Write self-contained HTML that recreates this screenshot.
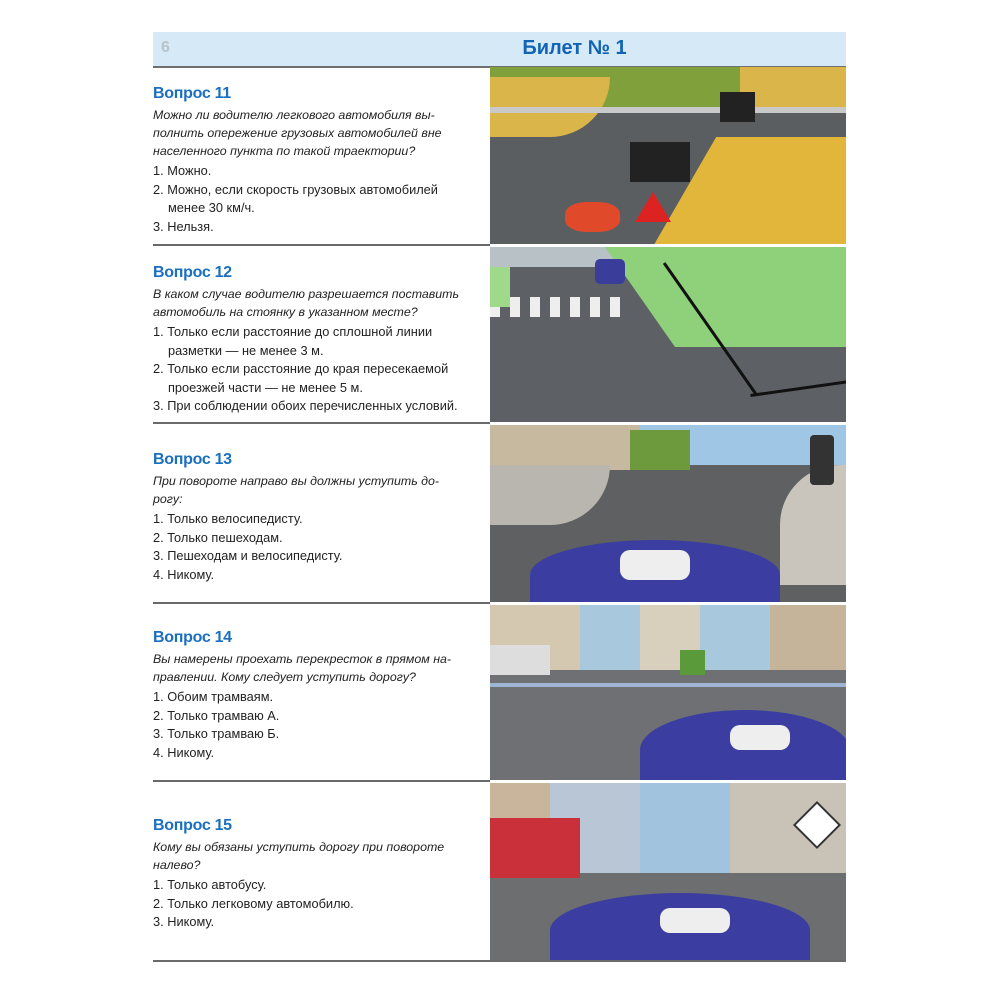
<!DOCTYPE html>
<html><head><meta charset="utf-8"><style>
body{margin:0;width:1000px;height:1000px;background:#fff;position:relative;font-family:"Liberation Sans",sans-serif;overflow:hidden}
.hd{position:absolute;left:153px;top:32px;width:693px;height:34px;background:#d6e9f7;border-bottom:2px solid #6f6f6f}
.hd .n{position:absolute;left:8px;top:7px;font-weight:bold;color:#b8c4cc;font-size:16px}
.hd .t{position:absolute;left:0;width:100%;top:5px;text-align:center;font-weight:bold;color:#1164b4;font-size:20px;padding-left:150px;box-sizing:border-box}
.sep{position:absolute;left:153px;width:337px;height:2px;background:#6a6a6a}
.q{position:absolute;left:153px;width:335px;font-size:12.4px;color:#222}
.q h2{margin:0 0 3px;font-size:16px;color:#1a6fbf;font-weight:bold;letter-spacing:-0.3px}
.q i{display:block;line-height:18px;margin-bottom:2px}
.q div{line-height:18.5px;padding-left:15px;text-indent:-15px;font-size:12.8px}
.img{position:absolute;left:490px;width:356px;overflow:hidden}
.r{position:absolute}
</style></head><body>
<div class="hd"><span class="n">6</span><span class="t">Билет № 1</span></div>

<div class="q" style="top:85px"><h2>Вопрос 11</h2><i>Можно ли водителю легкового автомобиля вы-<br>полнить опережение грузовых автомобилей вне<br>населенного пункта по такой траектории?</i>
<div>1. Можно.</div><div>2. Можно, если скорость грузовых автомобилей<br>менее 30 км/ч.</div><div>3. Нельзя.</div></div>
<div class="sep" style="top:244px"></div>

<div class="q" style="top:264px"><h2>Вопрос 12</h2><i>В каком случае водителю разрешается поставить<br>автомобиль на стоянку в указанном месте?</i>
<div>1. Только если расстояние до сплошной линии<br>разметки — не менее 3 м.</div><div>2. Только если расстояние до края пересекаемой<br>проезжей части — не менее 5 м.</div><div>3. При соблюдении обоих перечисленных условий.</div></div>
<div class="sep" style="top:422px"></div>

<div class="q" style="top:451px"><h2>Вопрос 13</h2><i>При повороте направо вы должны уступить до-<br>рогу:</i>
<div>1. Только велосипедисту.</div><div>2. Только пешеходам.</div><div>3. Пешеходам и велосипедисту.</div><div>4. Никому.</div></div>
<div class="sep" style="top:602px"></div>

<div class="q" style="top:629px"><h2>Вопрос 14</h2><i>Вы намерены проехать перекресток в прямом на-<br>правлении. Кому следует уступить дорогу?</i>
<div>1. Обоим трамваям.</div><div>2. Только трамваю А.</div><div>3. Только трамваю Б.</div><div>4. Никому.</div></div>
<div class="sep" style="top:780px"></div>

<div class="q" style="top:817px"><h2>Вопрос 15</h2><i>Кому вы обязаны уступить дорогу при повороте<br>налево?</i>
<div>1. Только автобусу.</div><div>2. Только легковому автомобилю.</div><div>3. Никому.</div></div>
<div class="sep" style="top:960px;width:693px"></div>

<!-- image 1 -->
<div class="img" style="top:67px;height:177px;background:#5b5e60">
<div class="r" style="left:0;top:0;width:356px;height:40px;background:#7fa03a"></div>
<div class="r" style="left:0;top:10px;width:120px;height:60px;background:#d9b54a;border-radius:0 0 60px 0"></div>
<div class="r" style="left:250px;top:0;width:106px;height:40px;background:#d9b54a"></div>
<div class="r" style="left:0;top:40px;width:356px;height:6px;background:#c9c9c9"></div>
<div class="r" style="left:180px;top:70px;width:220px;height:160px;background:#e2b63a;transform:skewX(-30deg)"></div>
<div class="r" style="left:140px;top:75px;width:60px;height:40px;background:#222"></div>
<div class="r" style="left:230px;top:25px;width:35px;height:30px;background:#222"></div>
<div class="r" style="left:75px;top:135px;width:55px;height:30px;background:#e04a2a;border-radius:40%"></div>
<div class="r" style="left:145px;top:125px;width:0;height:0;border-left:18px solid transparent;border-right:18px solid transparent;border-bottom:30px solid #d22"></div>
</div>
<!-- image 2 -->
<div class="img" style="top:247px;height:175px;background:#5d6064">
<div class="r" style="left:0;top:0;width:356px;height:20px;background:#b8c2c6"></div>
<div class="r" style="left:250px;top:0;width:106px;height:60px;background:#8a7e74"></div>
<div class="r" style="left:150px;top:0;width:260px;height:100px;background:#8fd07a;transform:skewX(35deg)"></div>
<div class="r" style="left:0;top:50px;width:140px;height:20px;background:repeating-linear-gradient(90deg,#eee 0 10px,#5d6064 10px 20px)"></div>
<div class="r" style="left:0;top:20px;width:20px;height:40px;background:#9fd98a"></div>
<div class="r" style="left:105px;top:12px;width:30px;height:25px;background:#3a3e9a;border-radius:5px"></div>
<div class="r" style="left:140px;top:80px;width:160px;height:3px;background:#111;transform:rotate(55deg)"></div>
<div class="r" style="left:260px;top:140px;width:100px;height:3px;background:#111;transform:rotate(-8deg)"></div>
</div>
<!-- image 3 -->
<div class="img" style="top:425px;height:177px;background:#5e6062">
<div class="r" style="left:0;top:0;width:356px;height:40px;background:#9fc6e4"></div>
<div class="r" style="left:0;top:0;width:150px;height:45px;background:#c7b9a0"></div>
<div class="r" style="left:140px;top:5px;width:60px;height:40px;background:#6d9a3d"></div>
<div class="r" style="left:0;top:40px;width:120px;height:60px;background:#b9b6b0;border-radius:0 0 100px 0"></div>
<div class="r" style="left:290px;top:40px;width:70px;height:120px;background:#c9c4bc;border-radius:60px 0 0 0"></div>
<div class="r" style="left:320px;top:10px;width:24px;height:50px;background:#333;border-radius:4px"></div>
<div class="r" style="left:40px;top:115px;width:250px;height:70px;background:#3b3ea0;border-radius:50% 50% 0 0"></div>
<div class="r" style="left:130px;top:125px;width:70px;height:30px;background:#eee;border-radius:10px"></div>
</div>
<!-- image 4 -->
<div class="img" style="top:605px;height:175px;background:#6e7073">
<div class="r" style="left:0;top:0;width:356px;height:65px;background:#a7c8dd"></div>
<div class="r" style="left:0;top:0;width:90px;height:65px;background:#d4c8b0"></div>
<div class="r" style="left:150px;top:0;width:60px;height:65px;background:#d8cfbd"></div>
<div class="r" style="left:280px;top:0;width:76px;height:65px;background:#c6b49a"></div>
<div class="r" style="left:0;top:40px;width:60px;height:30px;background:#ddd"></div>
<div class="r" style="left:190px;top:45px;width:25px;height:25px;background:#5a9a3a"></div>
<div class="r" style="left:0;top:78px;width:356px;height:4px;background:#9eb6d4"></div>
<div class="r" style="left:150px;top:105px;width:210px;height:80px;background:#3b3ea0;border-radius:50% 50% 0 0"></div>
<div class="r" style="left:240px;top:120px;width:60px;height:25px;background:#eee;border-radius:10px"></div>
</div>
<!-- image 5 -->
<div class="img" style="top:783px;height:177px;background:#6c6e70">
<div class="r" style="left:0;top:0;width:356px;height:90px;background:#a2c3de"></div>
<div class="r" style="left:0;top:0;width:60px;height:90px;background:#c8b59b"></div>
<div class="r" style="left:60px;top:0;width:90px;height:90px;background:#b9c6d6"></div>
<div class="r" style="left:240px;top:0;width:116px;height:90px;background:#c8c2b7"></div>
<div class="r" style="left:0;top:35px;width:90px;height:60px;background:#c9303a"></div>
<div class="r" style="left:310px;top:25px;width:30px;height:30px;background:#fff;transform:rotate(45deg);border:2px solid #333"></div>
<div class="r" style="left:60px;top:110px;width:260px;height:75px;background:#3b3ea0;border-radius:50% 50% 0 0"></div>
<div class="r" style="left:170px;top:125px;width:70px;height:25px;background:#eee;border-radius:10px"></div>
</div>
</body></html>
